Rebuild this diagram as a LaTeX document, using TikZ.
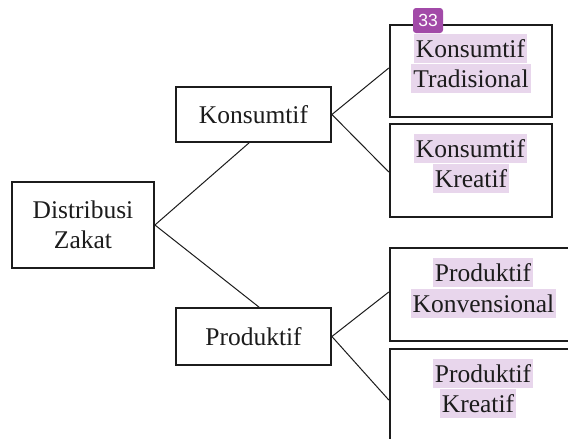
\documentclass[tikz,border=0pt]{standalone}
\usepackage{fontspec}
\setmainfont{Liberation Serif}
\newfontfamily\badgefont{Liberation Sans}
\usetikzlibrary{calc}
\definecolor{hl}{HTML}{E8D6EC}
\definecolor{badgecol}{HTML}{A24AA8}
\definecolor{ink}{HTML}{1C1C1C}
\begin{document}
\begin{tikzpicture}[x=1pt,y=-1pt,
  box/.style={draw=ink, line width=1.8pt, inner sep=0pt, font=\fontsize{25.5}{30.5}\selectfont, align=center, text=ink},
  rbox/.style={draw=ink, line width=2.4pt, inner sep=0pt},
  hltext/.style={fill=hl, inner xsep=2pt, inner ysep=0.5pt, text height=23pt, text depth=5.5pt, anchor=base, font=\fontsize{25.5}{30.5}\selectfont, text=ink},
  link/.style={draw=ink, line width=1pt},
  badge/.style={fill=badgecol, rounded corners=3pt, minimum width=30pt, minimum height=25pt, inner sep=0pt, text=white, font=\badgefont\fontsize{17.5}{17.5}\selectfont}]
\useasboundingbox (0,0) rectangle (568,439);
\fill[white] (0,0) rectangle (568,439);
\begin{scope}
\clip (0,0) rectangle (568,439);
% left and middle boxes
\node[box, minimum width=142pt, minimum height=86pt] (dz) at (83,225) {Distribusi\\Zakat};
\node[box, minimum width=155pt, minimum height=55pt] (ks) at (253.5,114.5) {Konsumtif};
\node[box, minimum width=155pt, minimum height=57pt] (pr) at (253.5,336.5) {Produktif};
% right boxes
\node[rbox, minimum width=162pt, minimum height=92pt] (kt) at (471,71) {};
\node[rbox, minimum width=162pt, minimum height=93pt] (kk) at (471,170.5) {};
\node[rbox, minimum width=188pt, minimum height=93pt] (pk) at (484,294.5) {};
\node[rbox, minimum width=188pt, minimum height=96pt] (pkr) at (484,397) {};
% connectors
\draw[link] (dz.east) -- ([xshift=-4.5pt]ks.south);
\draw[link] (dz.east) -- ([xshift=5.5pt]pr.north);
\draw[link] (ks.east) -- ([yshift=3pt]kt.west);
\draw[link] (ks.east) -- ([yshift=-1.5pt]kk.west);
\draw[link] (pr.east) -- ([yshift=2.5pt]pk.west);
\draw[link] (pr.east) -- ([yshift=-3pt]pkr.west);
% highlighted texts
\node[hltext] (t1a) at (470.5,57) {Konsumtif};
\node[hltext] (t1b) at (471,87) {Tradisional};
\node[hltext] (t2a) at (470.5,157) {Konsumtif};
\node[hltext] (t2b) at (471,187) {Kreatif};
\node[hltext] (t3a) at (483,281) {Produktif};
\node[hltext] (t3b) at (483.5,312) {Konvensional};
\node[hltext] (t4a) at (483,382) {Produktif};
\node[hltext] (t4b) at (478,412) {Kreatif};
% badge
\node[badge] (bd) at (428,20.5) {33};
\end{scope}
\end{tikzpicture}
\end{document}
